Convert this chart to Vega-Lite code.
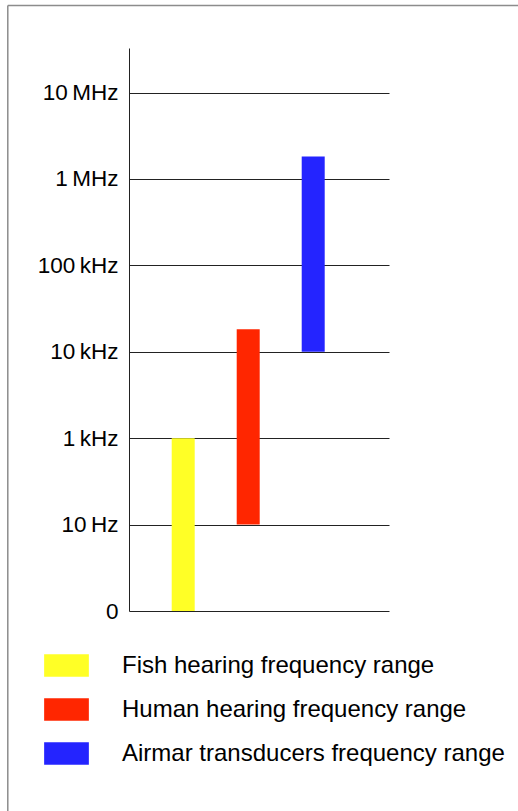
{
  "$schema": "https://vega.github.io/schema/vega-lite/v6.json",
  "autosize": {"type": "none"},
  "padding": {"left": 129, "top": 48, "right": 129, "bottom": 200},
  "width": 260,
  "height": 563,
  "background": "white",
  "config": {"view": {"stroke": null}, "font": "Liberation Sans"},
  "resolve": {"scale": {"x": "independent"}},
  "layer": [
    {
      "data": {
        "values": [
          {"range": "Fish hearing frequency range", "low": 0, "high": 2},
          {"range": "Human hearing frequency range", "low": 1, "high": 3.26},
          {"range": "Airmar transducers frequency range", "low": 3, "high": 5.26}
        ]
      },
      "mark": {"type": "bar", "width": 23},
      "encoding": {
        "x": {
          "field": "range",
          "type": "nominal",
          "sort": null,
          "axis": null,
          "scale": {"paddingInner": 0, "paddingOuter": 0.5, "align": 0.334}
        },
        "y": {
          "field": "high",
          "type": "quantitative",
          "scale": {"domain": [0, 6.516], "nice": false, "zero": false},
          "axis": {
            "values": [0, 1, 2, 3, 4, 5, 6],
            "labelExpr": "['0','10\u2009Hz','1\u2009kHz','10\u2009kHz','100\u2009kHz','1\u2009MHz','10\u2009MHz'][datum.value]",
            "ticks": false,
            "grid": true,
            "gridColor": "#222222",
            "gridOpacity": 1,
            "gridWidth": 1,
            "domainColor": "#222222",
            "domainWidth": 1,
            "labelFontSize": 22.5,
            "labelColor": "#000000",
            "labelPadding": 11,
            "labelFont": "Liberation Sans",
            "title": null
          }
        },
        "y2": {"field": "low"},
        "color": {
          "field": "range",
          "type": "nominal",
          "sort": null,
          "scale": {
            "domain": ["Fish hearing frequency range", "Human hearing frequency range", "Airmar transducers frequency range"],
            "range": ["#FFFF26", "#FF2600", "#2424FF"]
          },
          "legend": {
            "orient": "none",
            "legendX": -85,
            "legendY": 595,
            "title": null,
            "padding": 0,
            "symbolType": "M-1,-0.5H1V0.5H-1Z",
            "symbolSize": 2000,
            "symbolStrokeWidth": 0,
            "symbolOpacity": 1,
            "labelFontSize": 24,
            "labelColor": "#000000",
            "labelFont": "Liberation Sans",
            "labelOffset": 33,
            "labelLimit": 600,
            "rowPadding": 9
          }
        }
      }
    },
    {
      "data": {"values": [{}]},
      "mark": {"type": "rule", "color": "#8c8c8c", "strokeWidth": 1.5},
      "encoding": {
        "x": {"datum": -0.4662, "type": "quantitative", "scale": {"domain": [0, 1], "nice": false, "zero": false}, "axis": null},
        "x2": {"datum": 2},
        "y": {"datum": 7.008, "type": "quantitative", "title": null}
      }
    },
    {
      "data": {"values": [{}]},
      "mark": {"type": "rule", "color": "#8c8c8c", "strokeWidth": 1.5},
      "encoding": {
        "x": {"datum": -0.4662, "type": "quantitative", "scale": {"domain": [0, 1], "nice": false, "zero": false}, "axis": null},
        "y": {"datum": 7.008, "type": "quantitative", "title": null},
        "y2": {"datum": -3}
      }
    }
  ]
}
